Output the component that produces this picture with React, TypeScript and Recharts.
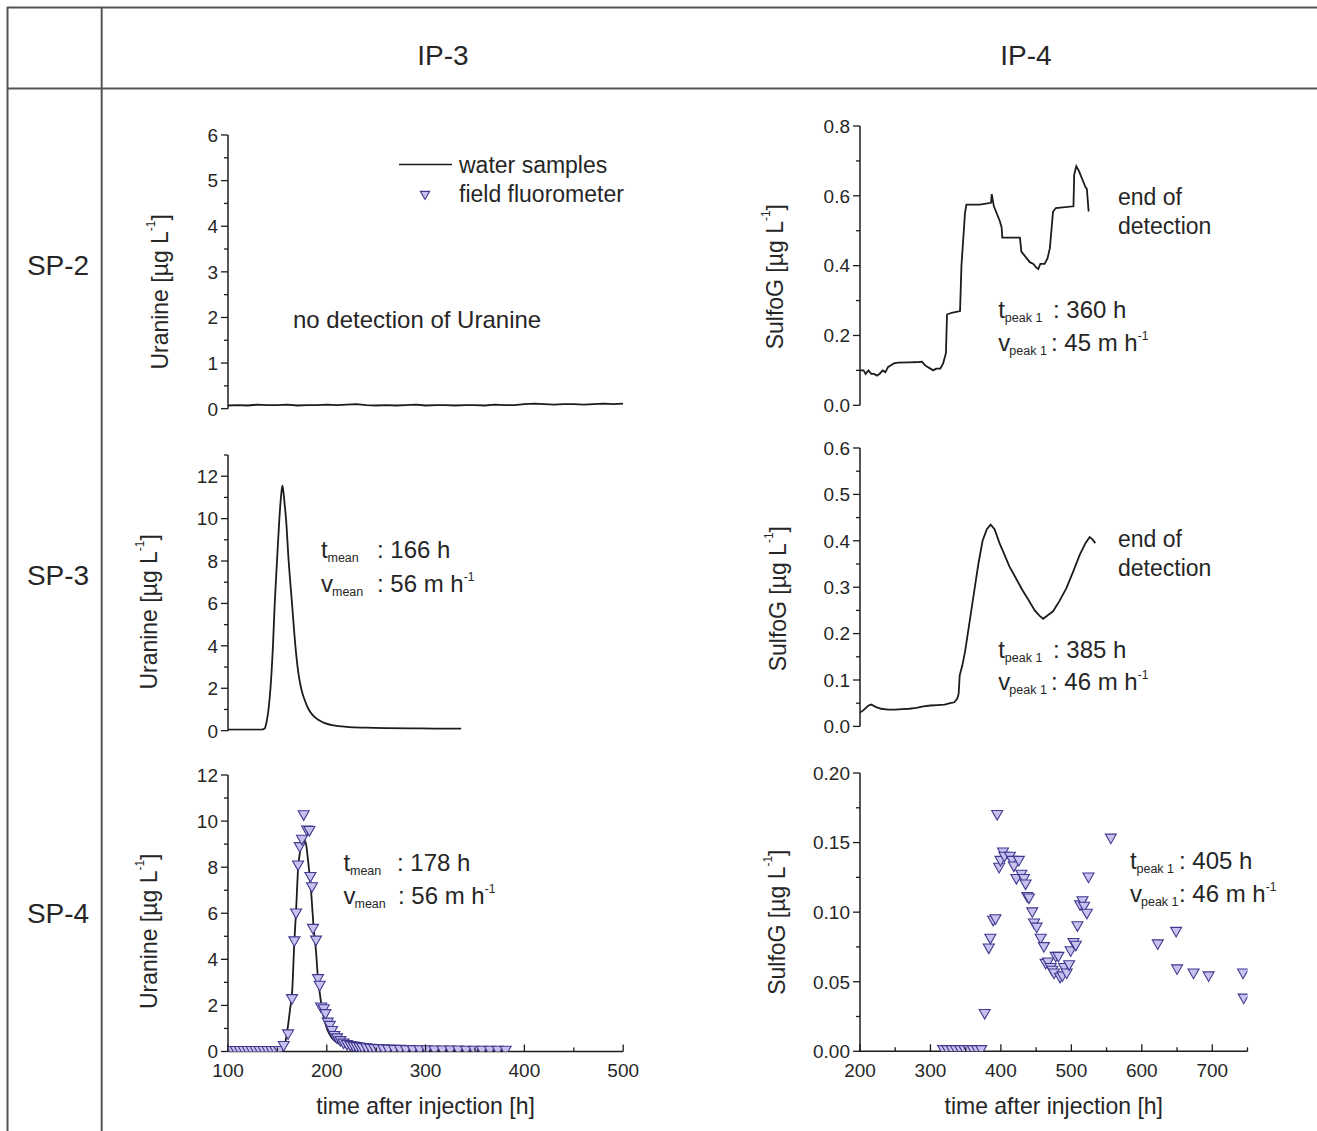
import React from "react";
import { ComposedChart, Line, Scatter, XAxis, YAxis } from "recharts";

// ---------- data ----------

// SP-2 / IP-3 : uranine, water samples (background only)
const sp2Ip3Hours = [100, 110, 120, 130, 140, 150, 160, 170, 180, 190, 200, 210, 220, 230, 240, 250, 260, 270, 280, 290, 300, 310, 320, 330, 340, 350, 360, 370, 380, 390, 400, 410, 420, 430, 440, 450, 460, 470, 480, 490, 500];
const sp2Ip3Uranine = [0.07, 0.08, 0.07, 0.09, 0.08, 0.08, 0.09, 0.07, 0.08, 0.08, 0.09, 0.08, 0.09, 0.1, 0.08, 0.07, 0.08, 0.07, 0.08, 0.09, 0.07, 0.08, 0.08, 0.07, 0.08, 0.08, 0.07, 0.09, 0.08, 0.08, 0.1, 0.11, 0.1, 0.09, 0.1, 0.1, 0.09, 0.1, 0.11, 0.1, 0.11];

// SP-3 / IP-3 : uranine, water samples
const sp3Ip3Hours = [100, 120, 134, 137, 139, 141, 143, 145.5, 147.3, 149.6, 152, 154, 155, 156, 157.5, 158.7, 161.4, 164.8, 168.2, 171, 174, 177.6, 181.7, 186, 191.8, 198, 207, 220, 240, 260, 285, 310, 336];
const sp3Ip3Uranine = [0.05, 0.05, 0.05, 0.1, 0.4, 1.0, 2.0, 4.0, 6.0, 8.0, 10.0, 11.2, 11.55, 11.3, 10.6, 10.0, 8.0, 6.0, 4.0, 2.8, 2.0, 1.45, 1.0, 0.72, 0.5, 0.36, 0.25, 0.18, 0.14, 0.12, 0.11, 0.1, 0.1];

// SP-4 / IP-3 : uranine, water samples
const sp4Ip3Hours = [100, 130, 150, 155, 158, 161, 163, 164.8, 167.2, 168.9, 170.9, 173, 175, 177.5, 179, 180.5, 182, 183.5, 185.5, 187, 189, 191, 193, 195, 198, 201, 205, 210, 216, 225, 240, 270, 320, 380];
const sp4Ip3Uranine = [0.05, 0.05, 0.05, 0.1, 0.4, 1.2, 1.9, 2.5, 4.8, 6.1, 7.9, 8.7, 9.0, 9.15, 9.0, 8.5, 7.9, 7.3, 6.1, 5.2, 4.4, 3.2, 2.5, 1.9, 1.3, 0.9, 0.6, 0.4, 0.25, 0.15, 0.1, 0.07, 0.05, 0.05];

// SP-4 / IP-3 : uranine, field fluorometer
const sp4Ip3FluoHours = [
  100, 104, 108, 112, 116, 120, 124, 128, 132, 136, 140, 144, 148, 152,
  156.4, 160.8, 164.8, 167.2, 168.9, 170.9, 172.6, 174.9, 176.6, 180, 182.4, 183.4, 185, 186,
  189.1, 191.1, 192.8, 194.2, 196.9, 198.6, 200.9, 203, 205.3, 207.7, 210.4, 213.8, 217, 220.5,
  224, 227, 230, 233, 236, 240, 244, 248, 252, 257, 262, 268, 274, 280,
  287, 294, 301, 309, 317, 325, 333, 341, 349, 357, 365, 373, 381
];
const sp4Ip3FluoUranine = [
  0.03, 0.03, 0.03, 0.03, 0.03, 0.03, 0.03, 0.03, 0.03, 0.03, 0.03, 0.03, 0.03, 0.03,
  0.25, 0.75, 2.28, 4.79, 6.0, 8.08, 8.88, 9.2, 10.26, 9.6, 9.58, 7.58, 7.14, 5.33,
  4.82, 3.15, 2.86, 1.92, 1.84, 1.63, 1.26, 1.12, 0.9, 0.68, 0.58, 0.46, 0.35, 0.29,
  0.25, 0.22, 0.2, 0.18, 0.16, 0.15, 0.13, 0.12, 0.11, 0.1, 0.09, 0.08, 0.08, 0.07,
  0.07, 0.06, 0.06, 0.05, 0.05, 0.05, 0.05, 0.04, 0.04, 0.04, 0.04, 0.04, 0.04
];

// SP-2 / IP-4 : sulforhodamine G, water samples
const sp2Ip4Hours = [200, 205, 208, 212, 216, 220, 224, 228, 232, 236, 240, 244, 248, 254, 270, 284, 288, 292, 296, 300, 304, 308, 314, 318, 322, 323.5, 330, 342, 344, 349, 351, 370, 386, 387, 390, 394, 398, 401, 402, 427, 429, 433, 437, 441, 446, 450, 453, 456, 462, 466, 469.5, 474, 478, 503, 504, 507, 511, 515, 520, 522, 524.5];
const sp2Ip4SulfoG = [0.1, 0.1, 0.09, 0.1, 0.09, 0.09, 0.085, 0.09, 0.1, 0.095, 0.11, 0.115, 0.12, 0.122, 0.123, 0.124, 0.125, 0.115, 0.11, 0.105, 0.1, 0.105, 0.105, 0.12, 0.15, 0.26, 0.265, 0.27, 0.4, 0.55, 0.575, 0.575, 0.58, 0.605, 0.57, 0.55, 0.53, 0.51, 0.48, 0.48, 0.44, 0.43, 0.42, 0.41, 0.405, 0.395, 0.39, 0.405, 0.405, 0.42, 0.45, 0.555, 0.565, 0.57, 0.66, 0.685, 0.67, 0.65, 0.625, 0.62, 0.555];

// SP-3 / IP-4 : sulforhodamine G, water samples
const sp3Ip4Hours = [200, 205, 212, 216, 222, 230, 240, 250, 260, 270, 280, 290, 300, 310, 320, 328, 334, 338, 340, 341.5, 345, 349, 353, 358, 363, 368, 374, 380, 385.5, 391, 398, 405, 412, 420, 430, 439, 448, 455, 460, 467, 474, 483, 493, 503, 512, 520, 526, 530, 534];
const sp3Ip4SulfoG = [0.03, 0.035, 0.045, 0.047, 0.042, 0.038, 0.036, 0.036, 0.037, 0.038, 0.04, 0.043, 0.045, 0.046, 0.047, 0.05, 0.052, 0.06, 0.07, 0.11, 0.13, 0.16, 0.2, 0.25, 0.3, 0.35, 0.4, 0.425, 0.435, 0.425, 0.395, 0.37, 0.345, 0.323, 0.295, 0.273, 0.25, 0.238, 0.232, 0.24, 0.248, 0.27, 0.298, 0.335, 0.37, 0.395, 0.408, 0.403, 0.395];

// SP-4 / IP-4 : sulforhodamine G, field fluorometer
const sp4Ip4Hours = [
  318, 324, 330, 336, 342, 348, 354, 360, 366, 372,
  377, 382.8, 385, 389, 392.3, 394.7, 397.5, 399.4, 403, 405,
  412.7, 416, 418.4, 422, 425.5, 429, 432.7, 435, 437.4, 439.8,
  444.5, 447, 450.7, 456.4, 461, 463.5, 466.9, 470.7, 473, 475.4,
  477.8, 481.6, 484, 487.3, 489.7, 493.4, 496.8, 499, 503, 506.3,
  508.6, 512.4, 515.8, 518.1, 522, 524.3, 556, 622.6, 648.7, 650,
  673.4, 694.8, 743.7, 744.6
];
const sp4Ip4SulfoG = [
  0.001, 0.001, 0.001, 0.001, 0.001, 0.001, 0.001, 0.001, 0.001, 0.001,
  0.027, 0.074, 0.081, 0.094, 0.095, 0.17, 0.132, 0.137, 0.143, 0.14,
  0.14, 0.137, 0.133, 0.124, 0.137, 0.127, 0.124, 0.12, 0.111, 0.11,
  0.1, 0.092, 0.089, 0.081, 0.075, 0.063, 0.064, 0.06, 0.058, 0.056,
  0.068, 0.068, 0.053, 0.054, 0.06, 0.056, 0.062, 0.072, 0.078, 0.076,
  0.09, 0.105, 0.108, 0.104, 0.099, 0.125, 0.153, 0.077, 0.086, 0.059,
  0.056, 0.054, 0.056, 0.038
];

// axis ticks
const ip3XMajor = [100, 200, 300, 400, 500];
const ip3XMinor = [150, 250, 350, 450];
const ip4XMajor = [200, 300, 400, 500, 600, 700];
const ip4XMinor = [250, 350, 450, 550, 650, 750];

const uranine6Major = [0, 1, 2, 3, 4, 5, 6];
const uranine6Minor = [0.5, 1.5, 2.5, 3.5, 4.5, 5.5];
const uranine12Major = [0, 2, 4, 6, 8, 10, 12];
const uranine12Minor = [1, 3, 5, 7, 9, 11];
const uranine13Minor = [1, 3, 5, 7, 9, 11, 13];
const sulfo08Major = [0, 0.2, 0.4, 0.6, 0.8];
const sulfo08Minor = [0.1, 0.3, 0.5, 0.7];
const sulfo06Major = [0, 0.1, 0.2, 0.3, 0.4, 0.5, 0.6];
const sulfo06Minor = [0.05, 0.15, 0.25, 0.35, 0.45, 0.55];
const sulfo02Major = [0, 0.05, 0.1, 0.15, 0.2];
const sulfo02Minor = [0.025, 0.075, 0.125, 0.175];

// ---------- styling ----------

const FONT = '"Liberation Sans", Arial, Helvetica, sans-serif';
const INK = "#1c1c1c";
const TEXT = "#262626";
const GRID = "#555";
const TRI_STROKE = "#3f3a8e";
const TRI_FILL = "#c8c1f0";

const zip = (hours: number[], vals: number[]) =>
  hours.map((h, i) => ({ h, v: vals[i] }));

const Tri = ({ cx, cy, s = 1 }: any) => {
  if (cx == null || cy == null) return null;
  const w = 5.5 * s;
  const up = 4.3 * s;
  const down = 5.3 * s;
  return (
    <polygon
      points={`${cx - w},${cy - up} ${cx + w},${cy - up} ${cx},${cy + down}`}
      fill={TRI_FILL}
      stroke={TRI_STROKE}
      strokeWidth={1.1}
    />
  );
};

const YW = 120;
const MT = 14;
const MR = 34;
const MB = 18;
const XH = 80;

type Pt = { h: number; v: number };

type PanelProps = {
  left: number;
  right: number;
  top: number;
  bottom: number;
  xDomain: [number, number];
  xMajor?: number[];
  xMinor?: number[];
  yDomain: [number, number];
  yMajor: number[];
  yMinor: number[];
  decimals: number;
  yTitle: string;
  titleDx: number;
  titleDy: number;
  line?: Pt[];
  curve?: "linear" | "monotone";
  points?: Pt[];
};

const Panel = (p: PanelProps) => {
  const showX = !!p.xMajor;
  const plotW = p.right - p.left;
  const plotH = p.bottom - p.top;
  const width = YW + plotW + MR;
  const height = MT + plotH + (showX ? XH : 0) + MB;
  const yMaj = new Set(p.yMajor);
  const xMaj = new Set(p.xMajor || []);

  const yTick = (t: any) => {
    const major = yMaj.has(t.payload.value);
    return (
      <g>
        <line x1={t.x} x2={t.x - (major ? 7 : 4)} y1={t.y} y2={t.y} stroke={INK} strokeWidth={1.3} />
        {major && (
          <text x={t.x - 10} y={t.y} dy="0.36em" textAnchor="end" fontSize={19} fill={TEXT} fontFamily={FONT}>
            {t.payload.value.toFixed(p.decimals)}
          </text>
        )}
      </g>
    );
  };

  const xTick = (t: any) => {
    const major = xMaj.has(t.payload.value);
    return (
      <g>
        <line x1={t.x} x2={t.x} y1={t.y} y2={t.y - (major ? 7 : 4)} stroke={INK} strokeWidth={1.3} />
        {major && (
          <text x={t.x} y={t.y + 26} textAnchor="middle" fontSize={19} fill={TEXT} fontFamily={FONT}>
            {t.payload.value}
          </text>
        )}
      </g>
    );
  };

  const yTitle = (lp: any) => {
    const vb = lp.viewBox;
    const cx = vb.x + vb.width - p.titleDx;
    const cy = vb.y + vb.height / 2 + p.titleDy;
    return (
      <text
        x={cx}
        y={cy}
        transform={`rotate(-90 ${cx} ${cy})`}
        textAnchor="middle"
        dominantBaseline="central"
        fontSize={23}
        fill={TEXT}
        fontFamily={FONT}
      >
        {p.yTitle} [µg L<tspan dy={-9} fontSize={12}>-1</tspan>
        <tspan dy={9}>]</tspan>
      </text>
    );
  };

  const xTitle = (lp: any) => {
    const vb = lp.viewBox;
    return (
      <text x={vb.x + vb.width / 2} y={vb.y + 63} textAnchor="middle" fontSize={23} fill={TEXT} fontFamily={FONT}>
        time after injection [h]
      </text>
    );
  };

  return (
    <div style={{ position: "absolute", left: p.left - YW, top: p.top - MT, width, height }}>
      <ComposedChart width={width} height={height} margin={{ top: MT, right: MR, bottom: MB, left: 0 }}>
        <XAxis
          type="number"
          dataKey="h"
          domain={p.xDomain}
          allowDataOverflow
          hide={!showX}
          height={showX ? XH : 0}
          ticks={[...(p.xMajor || []), ...(p.xMinor || [])]}
          interval={0}
          tickSize={0}
          tickMargin={0}
          tickLine={false}
          axisLine={{ stroke: INK, strokeWidth: 1.5 }}
          tick={xTick}
          label={showX ? { content: xTitle } : undefined}
        />
        <YAxis
          type="number"
          dataKey="v"
          domain={p.yDomain}
          allowDataOverflow
          width={YW}
          ticks={[...p.yMajor, ...p.yMinor]}
          interval={0}
          tickSize={0}
          tickMargin={0}
          tickLine={false}
          axisLine={{ stroke: INK, strokeWidth: 1.5 }}
          tick={yTick}
          label={{ content: yTitle }}
        />
        {p.line && (
          <Line
            data={p.line}
            dataKey="v"
            type={p.curve || "linear"}
            stroke={INK}
            strokeWidth={1.8}
            dot={false}
            activeDot={false}
            isAnimationActive={false}
          />
        )}
        {p.points && (
          <Scatter
            data={p.points}
            dataKey="v"
            shape={(s: any) => <Tri cx={s.cx} cy={s.cy} />}
            isAnimationActive={false}
          />
        )}
      </ComposedChart>
    </div>
  );
};

const Stat = ({ x, colonX, y, main, sub, value, sup }: any) => (
  <g fontFamily={FONT} fill={TEXT}>
    <text x={x} y={y} fontSize={24}>{main}</text>
    <text x={x + (main === "t" ? 6.5 : 11)} y={y + 4} fontSize={12.5}>{sub}</text>
    <text x={colonX} y={y} fontSize={24}>
      {`: ${value}`}
      {sup && <tspan dy={-11} fontSize={12}>{sup}</tspan>}
    </text>
  </g>
);

const Overlay = () => (
  <svg
    width={1317}
    height={1131}
    style={{ position: "absolute", left: 0, top: 0, pointerEvents: "none" }}
  >
    {/* table grid */}
    <line x1={7} x2={1317} y1={7.5} y2={7.5} stroke={GRID} strokeWidth={2} />
    <line x1={7} x2={1317} y1={88.5} y2={88.5} stroke={GRID} strokeWidth={2} />
    <line x1={7.5} x2={7.5} y1={7} y2={1131} stroke={GRID} strokeWidth={2} />
    <line x1={101.7} x2={101.7} y1={7} y2={1131} stroke={GRID} strokeWidth={2} />

    <g fontFamily={FONT} fill={TEXT} fontSize={28} textAnchor="middle">
      <text x={443} y={65}>IP-3</text>
      <text x={1026} y={65}>IP-4</text>
      <text x={58} y={275}>SP-2</text>
      <text x={58} y={585}>SP-3</text>
      <text x={58} y={923}>SP-4</text>
    </g>

    {/* legend */}
    <line x1={399} x2={452} y1={164.5} y2={164.5} stroke={INK} strokeWidth={1.6} />
    <Tri cx={425} cy={195} s={0.85} />
    <g fontFamily={FONT} fill={TEXT} fontSize={23}>
      <text x={459} y={173}>water samples</text>
      <text x={459} y={201.5}>field fluorometer</text>
      <text x={293} y={328} fontSize={24}>no detection of Uranine</text>
      <text x={1118} y={205}>end of</text>
      <text x={1118} y={233.5}>detection</text>
      <text x={1118} y={547}>end of</text>
      <text x={1118} y={576}>detection</text>
    </g>

    <Stat x={321} colonX={377} y={558} main="t" sub="mean" value="166 h" />
    <Stat x={321} colonX={377} y={592} main="v" sub="mean" value="56 m h" sup="-1" />
    <Stat x={343.5} colonX={397} y={870.5} main="t" sub="mean" value="178 h" />
    <Stat x={343.5} colonX={398} y={904} main="v" sub="mean" value="56 m h" sup="-1" />
    <Stat x={998.3} colonX={1053} y={318.3} main="t" sub="peak 1" value="360 h" />
    <Stat x={998.3} colonX={1051} y={350.7} main="v" sub="peak 1" value="45 m h" sup="-1" />
    <Stat x={998.3} colonX={1053} y={657.7} main="t" sub="peak 1" value="385 h" />
    <Stat x={998.3} colonX={1051} y={690} main="v" sub="peak 1" value="46 m h" sup="-1" />
    <Stat x={1130} colonX={1179} y={869.3} main="t" sub="peak 1" value="405 h" />
    <Stat x={1130} colonX={1179} y={901.7} main="v" sub="peak 1" value="46 m h" sup="-1" />
  </svg>
);

const App = () => (
  <div
    style={{
      position: "absolute",
      left: 0,
      top: 0,
      width: 1317,
      height: 1131,
      background: "#fff",
      overflow: "hidden",
      fontFamily: FONT
    }}
  >
    <Panel
      left={227.5} right={622.7} top={135} bottom={408.7}
      xDomain={[100, 500]}
      yDomain={[0, 6]} yMajor={uranine6Major} yMinor={uranine6Minor} decimals={0}
      yTitle="Uranine" titleDx={67.5} titleDy={20}
      line={zip(sp2Ip3Hours, sp2Ip3Uranine)}
    />
    <Panel
      left={227.5} right={622.7} top={455} bottom={730.7}
      xDomain={[100, 500]}
      yDomain={[0, 13]} yMajor={uranine12Major} yMinor={uranine13Minor} decimals={0}
      yTitle="Uranine" titleDx={79} titleDy={19}
      line={zip(sp3Ip3Hours, sp3Ip3Uranine)} curve="monotone"
    />
    <Panel
      left={227.5} right={622.7} top={775} bottom={1051.5}
      xDomain={[100, 500]} xMajor={ip3XMajor} xMinor={ip3XMinor}
      yDomain={[0, 12]} yMajor={uranine12Major} yMinor={uranine12Minor} decimals={0}
      yTitle="Uranine" titleDx={78.5} titleDy={18}
      line={zip(sp4Ip3Hours, sp4Ip3Uranine)} curve="monotone"
      points={zip(sp4Ip3FluoHours, sp4Ip3FluoUranine)}
    />
    <Panel
      left={859.5} right={1247} top={126} bottom={405.3}
      xDomain={[200, 750]}
      yDomain={[0, 0.8]} yMajor={sulfo08Major} yMinor={sulfo08Minor} decimals={1}
      yTitle="SulfoG" titleDx={84.5} titleDy={11}
      line={zip(sp2Ip4Hours, sp2Ip4SulfoG)}
    />
    <Panel
      left={859.5} right={1247} top={448.3} bottom={726.7}
      xDomain={[200, 750]}
      yDomain={[0, 0.6]} yMajor={sulfo06Major} yMinor={sulfo06Minor} decimals={1}
      yTitle="SulfoG" titleDx={82} titleDy={11.5}
      line={zip(sp3Ip4Hours, sp3Ip4SulfoG)}
    />
    <Panel
      left={859.5} right={1247} top={772.7} bottom={1051}
      xDomain={[200, 750]} xMajor={ip4XMajor} xMinor={ip4XMinor}
      yDomain={[0, 0.2]} yMajor={sulfo02Major} yMinor={sulfo02Minor} decimals={2}
      yTitle="SulfoG" titleDx={82.5} titleDy={10}
      points={zip(sp4Ip4Hours, sp4Ip4SulfoG)}
    />
    <Overlay />
  </div>
);

export default App;
